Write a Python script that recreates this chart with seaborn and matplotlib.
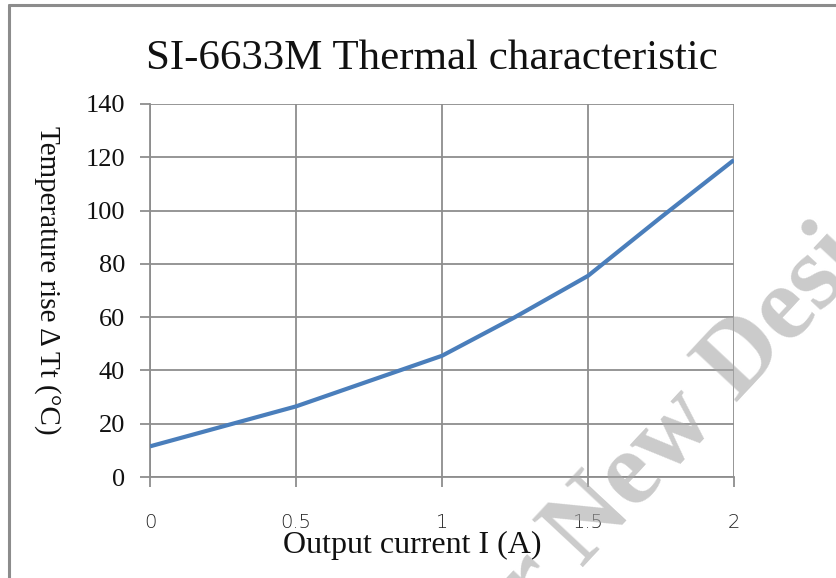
import matplotlib
matplotlib.use("Agg")
import matplotlib.pyplot as plt
from matplotlib.lines import Line2D
import seaborn as sns
import pandas as pd

# ---- data ----
current_a = [0.0, 0.25, 0.5, 0.75, 1.0, 1.25, 1.5, 1.75, 2.0]
temp_rise_c = [11.5, 19.0, 26.5, 36.0, 45.5, 60.0, 75.5, 97.5, 119.0]
x_ticks = [0, 0.5, 1, 1.5, 2]
x_tick_labels = ["0", "0.5", "1", "1.5", "2"]
y_ticks = [0, 20, 40, 60, 80, 100, 120, 140]

title = "SI-6633M Thermal characteristic"
x_label = "Output current I (A)"
y_label = "Temperature rise \u0394 Tt (\u00b0C)"

df = pd.DataFrame({"I": current_a, "T": temp_rise_c})

sns.set_theme(style="white")
plt.rcParams["font.family"] = ["Liberation Serif", "DejaVu Serif"]

fig = plt.figure(figsize=(8.37, 5.78), dpi=100)
ax = fig.add_axes([150 / 837, 1 - 477 / 578, (734 - 150) / 837, (477 - 104) / 578])
ax.patch.set_alpha(0)

sns.lineplot(data=df, x="I", y="T", ax=ax, color="#4a7ebb", linewidth=3.0,
             zorder=5, solid_capstyle="butt")

grid_c = "#8e8e8e"
ax.set_xlim(0, 2)
ax.set_ylim(0, 140)
ax.set_xticks(x_ticks)
ax.set_xticklabels(x_tick_labels)
ax.set_yticks(y_ticks)
ax.grid(True, color=grid_c, linewidth=1.3)
for s in ["top", "right"]:
    ax.spines[s].set_visible(False)
for s in ["left", "bottom"]:
    ax.spines[s].set_color(grid_c)
    ax.spines[s].set_linewidth(1.3)
ax.tick_params(axis="both", which="major", direction="out", length=7,
               width=1.3, color=grid_c, bottom=True, left=True)
ax.tick_params(axis="y", pad=11, labelsize=19, labelcolor="#111111")
ax.tick_params(axis="x", pad=19, labelsize=14, labelcolor="#222222")
for lab in ax.get_xticklabels():
    lab.set_family(["DejaVu Sans"])
    lab.set_fontweight("light")

ax.set_xlabel(x_label, fontsize=23, color="#111111", va="center")
ax.xaxis.set_label_coords((412 - 150) / 584, -(545 - 477) / 373)
ax.set_ylabel(y_label, fontsize=21, color="#111111", rotation=270,
              va="center")
ax.yaxis.set_label_coords(-103 / 584, (477 - 280) / 373)
ax.set_title(title, fontsize=31, color="#111111", pad=25,
             x=(432 - 150) / 584)

# chart-area border (left and top only visible)
fig.add_artist(Line2D([9 / 837, 9 / 837], [0, 1 - 5 / 578], transform=fig.transFigure,
                      color="#8c8c8c", linewidth=2.2))
fig.add_artist(Line2D([9 / 837, 1], [1 - 5 / 578, 1 - 5 / 578], transform=fig.transFigure,
                      color="#8c8c8c", linewidth=2.2))

# watermark
wm_kw = dict(rotation=47, rotation_mode="anchor", va="baseline", fontsize=76,
             fontweight="bold", color="#a8a8a8", alpha=0.6,
             family=["Liberation Serif"], zorder=10)
px, py = 582 / 837, 1 - 568 / 578
fig.text(px, py, "New Design", ha="left", **wm_kw)
fig.text(px, py, "Not Recommended for ", ha="right", **wm_kw)

fig.savefig("out.png", dpi=100)
